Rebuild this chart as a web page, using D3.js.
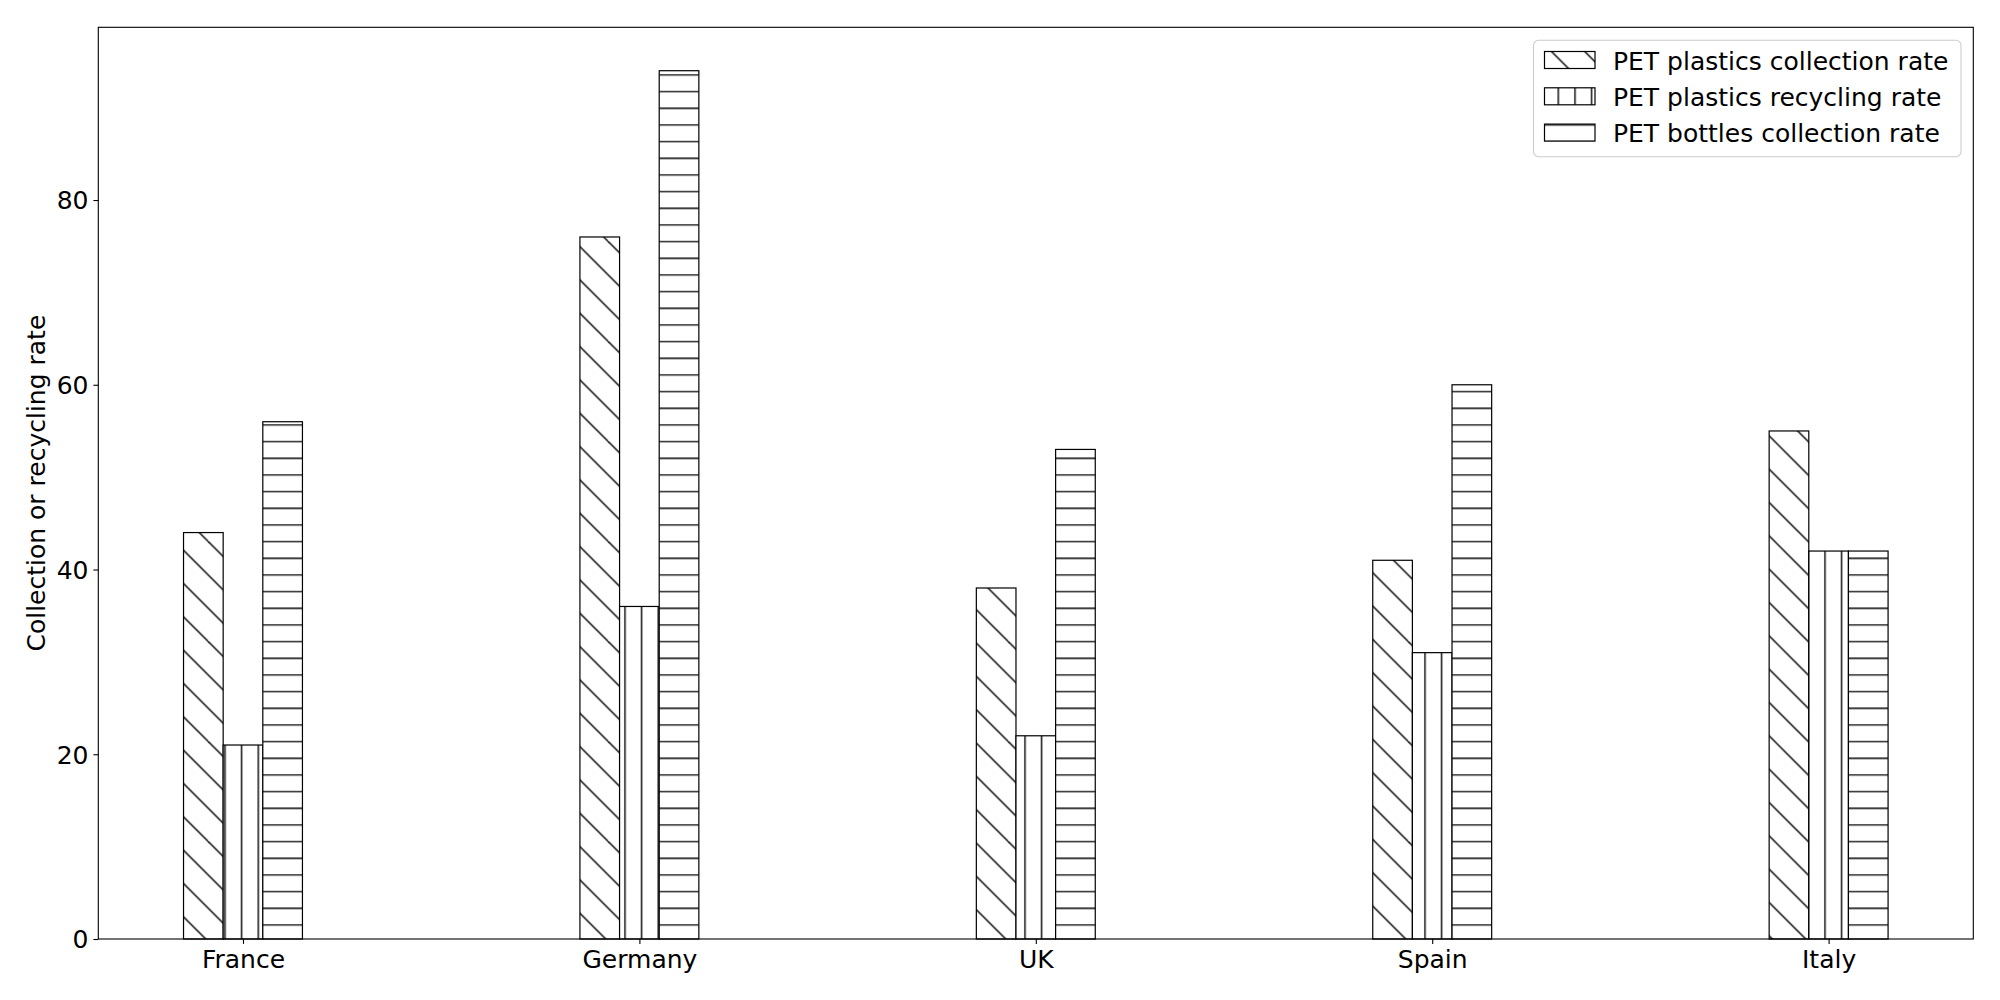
<!DOCTYPE html>
<html>
<head>
<meta charset="utf-8">
<script src="https://cdn.jsdelivr.net/npm/d3@7"></script>
<style>
  html, body { margin: 0; padding: 0; background: #fff; }
  svg { display: block; font-family: "DejaVu Sans", sans-serif; }
</style>
</head>
<body>
<svg id="chart" width="2000" height="1000"></svg>
<script>
// ---- data ----
const categories = ["France", "Germany", "UK", "Spain", "Italy"];
const seriesNames = ["PET plastics collection rate", "PET plastics recycling rate", "PET bottles collection rate"];
const collectionRate = [44, 76, 38, 41, 55];
const recyclingRate = [21, 36, 22, 31, 42];
const bottlesRate = [56, 94, 53, 60, 42];
const yTicks = [0, 20, 40, 60, 80];
const yLabel = "Collection or recycling rate";

const seriesValues = [collectionRate, recyclingRate, bottlesRate];
const hatchIds = ["hatch-diag", "hatch-vert", "hatch-horiz"];

// ---- layout ----
const W = 2000, H = 1000;
const plot = { left: 98.3, right: 1973.3, top: 27.3, bottom: 939 };
const barW = 0.1;
const fontSize = 25;

const svg = d3.select("#chart");

// hatch patterns (tile of 100px, offset like the reference)
const defs = svg.append("defs");
const tile = 100, step = tile / 6, off = step / 2;
function mkPattern(id) {
  return defs.append("pattern").attr("id", id)
    .attr("patternUnits", "userSpaceOnUse")
    .attr("x", off).attr("y", off)
    .attr("width", tile).attr("height", tile);
}
const hs = 1.4;
const pV = mkPattern("hatch-vert");
pV.append("rect").attr("width", tile).attr("height", tile).attr("fill", "#fff");
d3.range(-1, 7).forEach(k => pV.append("line")
  .attr("x1", k * step).attr("x2", k * step).attr("y1", -2).attr("y2", tile + 2)
  .attr("stroke", "#000").attr("stroke-width", hs));
const pH = mkPattern("hatch-horiz");
pH.append("rect").attr("width", tile).attr("height", tile).attr("fill", "#fff");
d3.range(-1, 7).forEach(k => pH.append("line")
  .attr("y1", k * step).attr("y2", k * step).attr("x1", -2).attr("x2", tile + 2)
  .attr("stroke", "#000").attr("stroke-width", hs));
const pD = mkPattern("hatch-diag");
pD.append("rect").attr("width", tile).attr("height", tile).attr("fill", "#fff");
const dstep = tile / 3;
d3.range(-4, 5).forEach(k => pD.append("line")
  .attr("x1", -10).attr("y1", -10 + k * dstep)
  .attr("x2", tile + 10).attr("y2", tile + 10 + k * dstep)
  .attr("stroke", "#000").attr("stroke-width", hs));

// scales
const allVals = seriesValues.flat();
const xMinData = -1 * barW - barW / 2, xMaxData = (categories.length - 1) + barW + barW / 2;
const xPad = (xMaxData - xMinData) * 0.05;
const x = d3.scaleLinear().domain([xMinData - xPad, xMaxData + xPad]).range([plot.left, plot.right]);
const y = d3.scaleLinear().domain([0, d3.max(allVals) * 1.05]).range([plot.bottom, plot.top]);

// bars
const bw = x(barW) - x(0);
seriesValues.forEach((vals, si) => {
  svg.append("g").selectAll("rect").data(vals).join("rect")
    .attr("x", (d, j) => x(j + (si - 1) * barW) - bw / 2)
    .attr("y", d => y(d))
    .attr("width", bw)
    .attr("height", d => y(0) - y(d))
    .attr("fill", `url(#${hatchIds[si]})`)
    .attr("stroke", "#000")
    .attr("stroke-width", 1.2);
});

// frame
svg.append("rect")
  .attr("x", plot.left).attr("y", plot.top)
  .attr("width", plot.right - plot.left).attr("height", plot.bottom - plot.top)
  .attr("fill", "none").attr("stroke", "#000").attr("stroke-width", 1.1);

// axes
const xAxis = d3.axisBottom(x)
  .tickValues(d3.range(categories.length))
  .tickFormat(i => categories[i])
  .tickSize(4.9).tickPadding(4.9);
const gx = svg.append("g").attr("transform", `translate(0,${plot.bottom})`).call(xAxis);
gx.select(".domain").remove();
gx.selectAll("line").attr("stroke", "#000").attr("stroke-width", 1.1);
gx.selectAll("text").attr("font-size", fontSize).attr("fill", "#000")
  .attr("font-family", "DejaVu Sans").attr("dy", null).attr("y", 29);

const yAxis = d3.axisLeft(y).tickValues(yTicks).tickSize(4.9).tickPadding(4.9);
const gy = svg.append("g").attr("transform", `translate(${plot.left},0)`).call(yAxis);
gy.select(".domain").remove();
gy.selectAll("line").attr("stroke", "#000").attr("stroke-width", 1.1);
gy.selectAll("text").attr("font-size", fontSize).attr("fill", "#000")
  .attr("font-family", "DejaVu Sans").attr("dy", "0.35em");

// y label
svg.append("text")
  .attr("transform", `translate(45,${(plot.top + plot.bottom) / 2}) rotate(-90)`)
  .attr("text-anchor", "middle")
  .attr("font-size", fontSize).attr("fill", "#000")
  .text(yLabel);

// legend
const lg = svg.append("g");
lg.append("rect")
  .attr("x", 1533.5).attr("y", 40.3).attr("width", 427.5).attr("height", 116.4)
  .attr("rx", 5).attr("ry", 5)
  .attr("fill", "#fff").attr("fill-opacity", 0.8)
  .attr("stroke", "#cccccc").attr("stroke-width", 1.1);
const rowH = 36.3, row0 = 60;
seriesNames.forEach((name, i) => {
  const cy = row0 + i * rowH;
  lg.append("rect")
    .attr("x", 1544.5).attr("y", cy - 8.5).attr("width", 50.5).attr("height", 17)
    .attr("fill", `url(#${hatchIds[i]})`)
    .attr("stroke", "#000").attr("stroke-width", 1.2);
  lg.append("text")
    .attr("x", 1613).attr("y", cy + 9.5)
    .attr("font-size", fontSize).attr("fill", "#000")
    .text(name);
});
</script>
</body>
</html>
